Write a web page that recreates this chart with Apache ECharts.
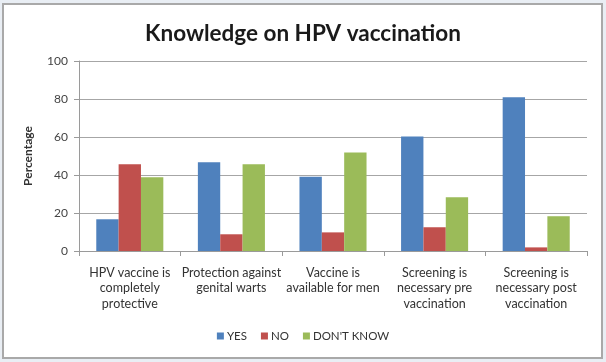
<!DOCTYPE html>
<html>
<head>
<meta charset="utf-8">
<script src="https://cdn.jsdelivr.net/npm/echarts@6/dist/echarts.min.js"></script>
<style>
html,body{margin:0;padding:0;background:#e9eef4;}
#c{width:606px;height:362px;}
</style>
</head>
<body>
<div id="c"></div>
<script>
const categories = [
  "HPV vaccine is\ncompletely\nprotective",
  "Protection against\ngenital warts",
  "Vaccine is\navailable for men",
  "Screening is\nnecessary pre\nvaccination",
  "Screening is\nnecessary post\nvaccination"
];
const yesValues = [16.7, 46.7, 39.1, 60.2, 80.9];
const noValues = [45.6, 8.8, 9.8, 12.5, 1.9];
const dontKnowValues = [38.8, 45.6, 51.9, 28.3, 18.3];
const seriesNames = ["YES", "NO", "DON'T KNOW"];
const yTicks = [0, 20, 40, 60, 80, 100];

const chart = echarts.init(document.getElementById('c'), null, {renderer: 'canvas'});
const font = "Lato";
chart.setOption({
  animation: false,
  backgroundColor: 'transparent',
  graphic: [{
    type: 'rect', z: -10,
    shape: {x: 3, y: 4, width: 599, height: 354},
    style: {fill: '#ffffff', stroke: '#a9a9a9', lineWidth: 2}
  }],
  title: {
    text: 'Knowledge on HPV vaccination',
    left: 'center', top: 17,
    textStyle: {fontFamily: font, fontSize: 22.5, fontWeight: 'bold', color: '#1a1a1a'}
  },
  legend: {
    data: seriesNames,
    bottom: 15, left: 'center',
    itemWidth: 7, itemHeight: 7, itemGap: 14,
    icon: 'rect',
    textStyle: {fontFamily: font, fontSize: 11.5, color: '#333', padding: [0,0,0,-2]}
  },
  grid: {left: 79, right: 19, top: 61, bottom: 111, containLabel: false},
  xAxis: {
    type: 'category', data: categories,
    axisLine: {lineStyle: {color: '#9a9a9a', width: 1}},
    axisTick: {show: true, length: 5, lineStyle: {color: '#9a9a9a'}},
    axisLabel: {fontFamily: font, fontSize: 12.5, color: '#333', lineHeight: 15.5, margin: 14, interval: 0}
  },
  yAxis: {
    type: 'value', min: yTicks[0], max: yTicks[yTicks.length-1], interval: 20,
    name: 'Percentage', nameLocation: 'middle', nameGap: 45, nameRotate: 90,
    nameTextStyle: {fontFamily: font, fontSize: 12, fontWeight: 'bold', color: '#333'},
    axisLine: {show: true, lineStyle: {color: '#9a9a9a'}},
    axisTick: {show: true, length: 5, inside: false, lineStyle: {color: '#9a9a9a'}},
    axisLabel: {fontFamily: font, fontSize: 12, color: '#444', margin: 11},
    splitLine: {lineStyle: {color: '#a6a6a6', width: 1.2}}
  },
  series: [
    {name: seriesNames[0], type: 'bar', data: yesValues, itemStyle: {color: '#4f81bd'}, barGap: '0%', barCategoryGap: '34%'},
    {name: seriesNames[1], type: 'bar', data: noValues, itemStyle: {color: '#c0504d'}},
    {name: seriesNames[2], type: 'bar', data: dontKnowValues, itemStyle: {color: '#9bbb59'}}
  ]
});
</script>
</body>
</html>
